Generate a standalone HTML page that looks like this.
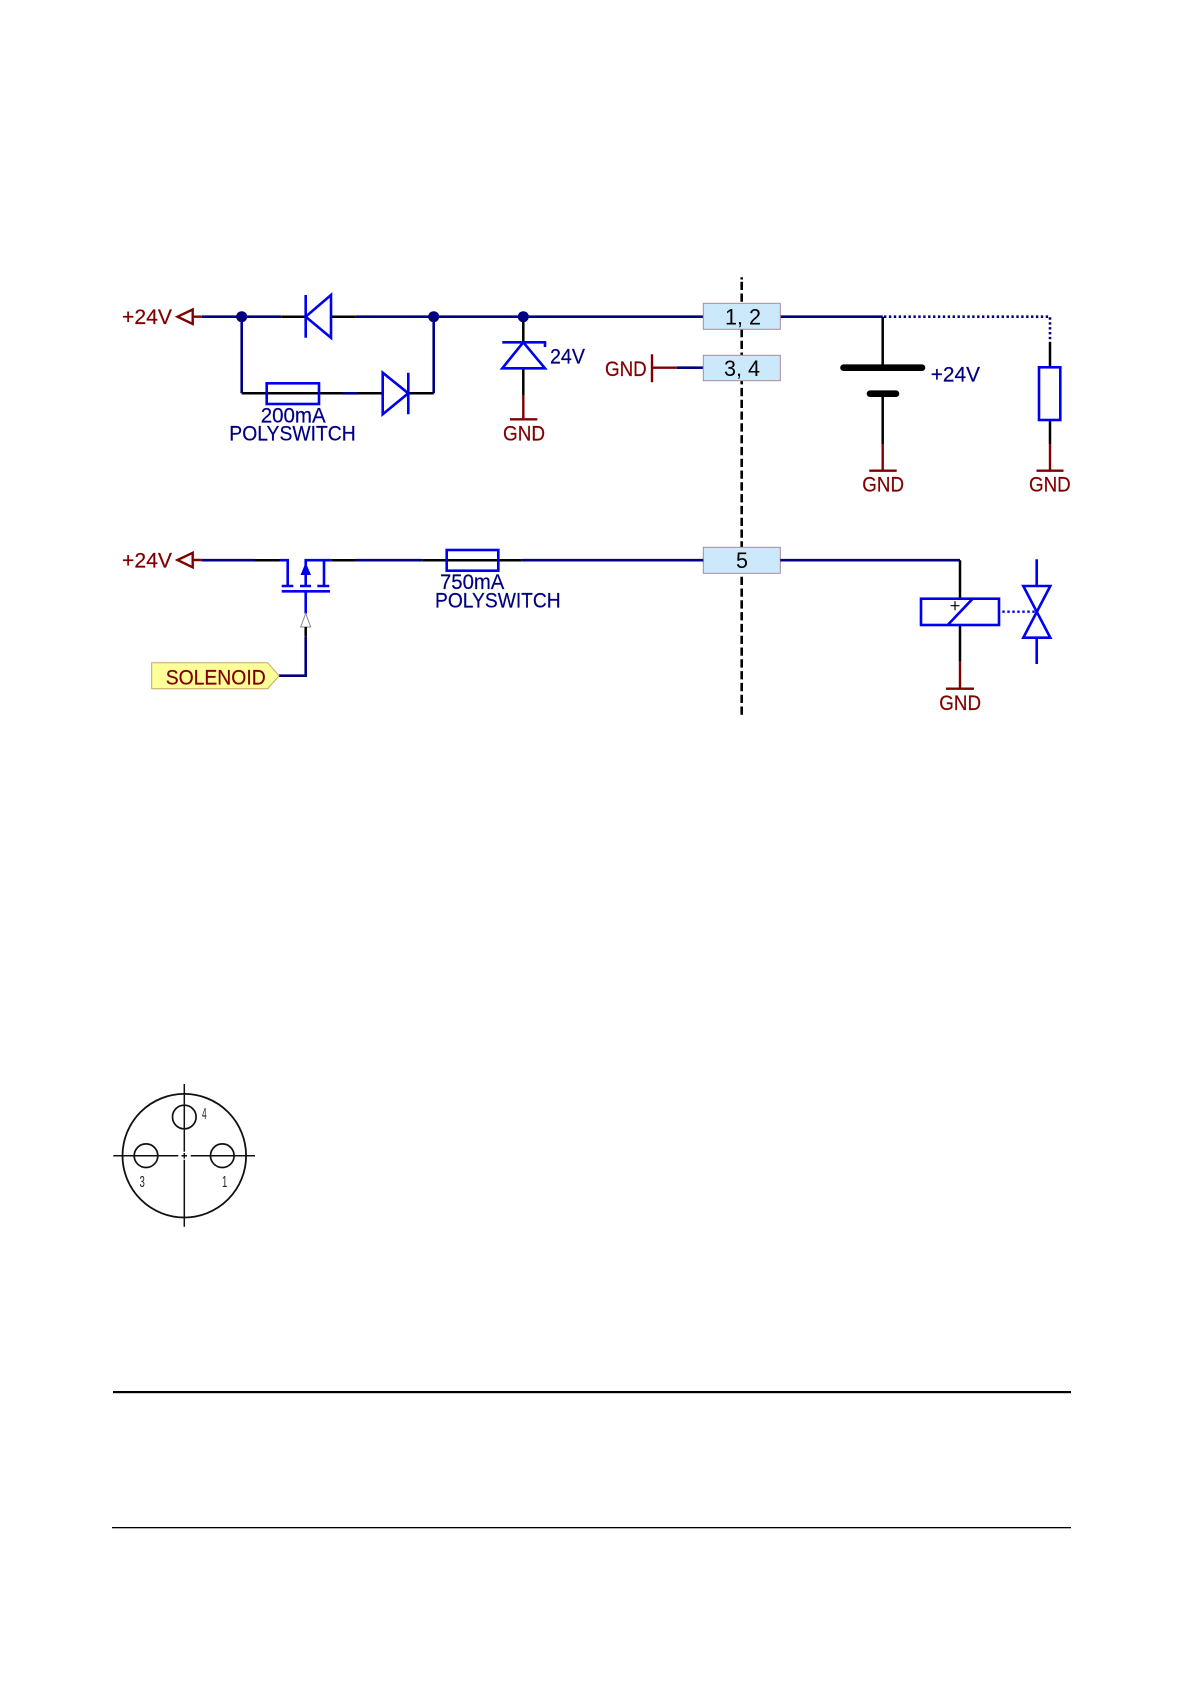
<!DOCTYPE html>
<html><head><meta charset="utf-8"><style>
html,body{margin:0;padding:0;background:#fff}
svg{display:block}
text{font-family:"Liberation Sans",sans-serif;font-size:21px}
.n{stroke:#000080;stroke-width:2.6;fill:none}
.k{stroke:#000;stroke-width:2.5;fill:none}
.r{stroke:#800000;stroke-width:2.4;fill:none}
.b{stroke:#0000f0;stroke-width:2.6;fill:none}
.tr{fill:#800000;stroke:#800000;stroke-width:.2}.tn{fill:#000080;stroke:#000080;stroke-width:.2}
</style></head><body>
<svg width="1191" height="1684" viewBox="0 0 1191 1684" xmlns="http://www.w3.org/2000/svg">
<!-- separator dashed -->
<path d="M741.7 277.3V279.5" stroke="#000" stroke-width="2.6"/>
<path d="M741.7 281.7V715" stroke="#000" stroke-width="2.6" stroke-dasharray="8.3 3.5" fill="none"/>

<!-- top net -->
<path class="n" d="M201.7 316.7H281.7M355.7 316.7H703.3M780.3 316.7H882.7"/>
<path class="k" d="M281.7 316.7H305.7M331 316.7H355.7"/>
<path class="n" d="M241.7 316.7V393.3M433.7 316.7V393.3"/>
<path class="k" d="M241.7 393.3H343M358 393.3H383M408.3 393.3H433.7M523.3 316.7V342.3M523.3 368.3V395"/>
<path class="n" d="M343 393.3H358"/>
<circle cx="241.7" cy="316.7" r="5.5" fill="#000080"/>
<circle cx="433.7" cy="316.7" r="5.5" fill="#000080"/>
<circle cx="523.3" cy="316.7" r="5.5" fill="#000080"/>
<!-- port 1 -->
<path class="r" stroke-width="2.6" d="M192.7 309.5L177.5 316.7L192.7 324ZM192.7 316.7H201.7"/>
<text class="tr" x="122" y="324" textLength="50" lengthAdjust="spacingAndGlyphs">+24V</text>
<!-- diode 1 -->
<path class="b" d="M305.7 295V337.7M331 295L305.7 316.7L331 337.7Z"/>
<!-- fuse 1 -->
<rect class="b" x="266.7" y="383.3" width="52.3" height="20.7"/>
<text class="tn" x="260.7" y="422.3" textLength="65" lengthAdjust="spacingAndGlyphs">200mA</text>
<text class="tn" x="229.3" y="440.3" textLength="126.4" lengthAdjust="spacingAndGlyphs">POLYSWITCH</text>
<!-- diode 2 -->
<path class="b" d="M408.3 372.7V414.3M382.7 372.7L408.3 393.3L382.7 414.3Z"/>
<!-- zener -->
<path class="b" d="M545 347V342.3H502.3M523.3 342.3L545 368.3H502.3Z"/>
<text class="tn" x="550" y="363.3" textLength="35" lengthAdjust="spacingAndGlyphs">24V</text>
<path class="r" d="M523.3 395V419.3M510 419.3H537.3"/>
<text class="tr" x="503" y="440.3" textLength="42" lengthAdjust="spacingAndGlyphs">GND</text>

<!-- GND 3,4 -->
<text class="tr" x="605" y="376" textLength="41.7" lengthAdjust="spacingAndGlyphs">GND</text>
<path class="r" d="M652 354.3V382.3M652 367.7H676.7"/>
<path class="n" d="M676.7 367.7H703.3"/>

<!-- connectors -->
<rect x="703.3" y="303.3" width="77" height="26" fill="#cce8fb" stroke="#a88a9a" stroke-width="1"/>
<rect x="703.3" y="355.3" width="77" height="25.4" fill="#cce8fb" stroke="#a88a9a" stroke-width="1"/>
<rect x="703.3" y="547.3" width="77" height="26" fill="#cce8fb" stroke="#a88a9a" stroke-width="1"/>
<text x="725" y="324.3" textLength="36" style="font-size:22px" lengthAdjust="spacingAndGlyphs">1, 2</text>
<text x="724" y="376" textLength="36" style="font-size:22px" lengthAdjust="spacingAndGlyphs">3, 4</text>
<text x="736" y="568" textLength="12" style="font-size:22px" lengthAdjust="spacingAndGlyphs">5</text>

<!-- battery -->
<path class="k" d="M882.7 316.7V367.7M882.7 393.7V444"/>
<path d="M843.5 367.7H922M870 393.7H896" stroke="#000" stroke-width="6.6" stroke-linecap="round" fill="none"/>
<text class="tn" x="930.7" y="381.7" textLength="49.3" lengthAdjust="spacingAndGlyphs">+24V</text>
<path class="r" d="M882.7 444V470.7M869.3 470.7H896.7"/>
<text class="tr" x="862.3" y="491.7" textLength="41.7" lengthAdjust="spacingAndGlyphs">GND</text>

<!-- dotted to resistor -->
<path d="M884 316.7H1050V341.7" stroke="#000080" stroke-width="2.6" stroke-dasharray="2.4 2.5" fill="none"/>
<path class="k" d="M1050 341.7V367.3M1050 420V444"/>
<rect class="b" x="1039" y="367.3" width="21.3" height="52.7"/>
<path class="r" d="M1050 444V470.7M1036.5 470.7H1063.5"/>
<text class="tr" x="1029" y="491.7" textLength="41.7" lengthAdjust="spacingAndGlyphs">GND</text>

<!-- bottom net -->
<path class="n" d="M201.7 560.2H255M355 560.2H422.3M521.7 560.2H703.3M780.3 560.2H960"/>
<path class="k" d="M255 560.2H280M331.7 560.2H355M422.3 560.2H521.7"/>
<path class="r" stroke-width="2.6" d="M192.7 552.8L177.5 560L192.7 567.3ZM192.7 560H201.7"/>
<text class="tr" x="122" y="567.5" textLength="50" lengthAdjust="spacingAndGlyphs">+24V</text>
<!-- mosfet -->
<path class="b" d="M280 560.2H287.7V586M281.7 586H293.3M300 586H311M317.3 586H329.3M281.7 591.3H330M305.7 586V560.2H331.7M324 560.2V586M305.7 591.3V613.5"/>
<path d="M305.7 562.5L311 575H300.5Z" fill="#0000f0"/>
<!-- gate -->
<path d="M305.7 613.3L310.7 627H300.7Z" fill="#fff" stroke="#888" stroke-width="1"/>
<path class="k" d="M305.7 627V636.7"/>
<path class="n" d="M305.7 636.7V675.7H279"/>
<polygon points="151.7,662.7 267.7,662.7 279,675.7 267.7,688.7 151.7,688.7" fill="#ffff99" stroke="#c4a468" stroke-width="1"/>
<text class="tr" x="165.7" y="684.3" textLength="100" lengthAdjust="spacingAndGlyphs">SOLENOID</text>
<!-- fuse 2 -->
<rect class="b" x="446.7" y="550" width="51.6" height="20.7"/>
<text class="tn" x="440" y="589" textLength="64.3" lengthAdjust="spacingAndGlyphs">750mA</text>
<text class="tn" x="435" y="607.7" textLength="125.7" lengthAdjust="spacingAndGlyphs">POLYSWITCH</text>

<!-- coil -->
<path class="k" d="M960 560.3V598.7M960 625V661.7"/>
<rect class="b" x="921" y="598.7" width="78" height="26.3"/>
<path class="b" d="M947.7 625L972.7 598.7"/>
<path d="M950.5 605.7H959.5M955 601.2V610.2" stroke="#000" stroke-width="1.2"/>
<path class="r" d="M960 661.7V688.7M946 688.7H974"/>
<text class="tr" x="939.3" y="710" textLength="41.7" lengthAdjust="spacingAndGlyphs">GND</text>
<!-- valve -->
<path d="M1002.3 611.7H1036" stroke="#0000f0" stroke-width="2.4" stroke-dasharray="2.4 2.6" fill="none"/>
<path class="b" d="M1036.7 559.3V586M1023.3 586H1050.3L1023.3 637.7H1050.3ZM1036.7 637.7V664"/>

<!-- connector drawing -->
<g fill="none" stroke="#111">
<circle cx="184.3" cy="1155.7" r="61.8" stroke-width="1.8"/>
<circle cx="184.3" cy="1117" r="11.8" stroke-width="1.7"/>
<circle cx="146" cy="1155.7" r="11.8" stroke-width="1.7"/>
<circle cx="222.3" cy="1155.7" r="11.8" stroke-width="1.7"/>
<path stroke-width="1.5" d="M113.3 1155.7H178.3M190.7 1155.7H255M184.3 1084V1151.7M184.3 1159.7V1226.7M181.5 1155.7H187M184.3 1153V1158.5"/>
</g>
<g fill="#222">
<text transform="translate(202 1119) scale(.52 1)" style="font-size:16px">4</text>
<text transform="translate(139.5 1187) scale(.6 1)" style="font-size:16px">3</text>
<text transform="translate(222 1187) scale(.6 1)" style="font-size:16px">1</text>
</g>

<!-- rules -->
<rect x="113" y="1391" width="958" height="2.2" fill="#000"/>
<rect x="112" y="1527" width="959" height="1.3" fill="#000"/>
</svg>
</body></html>
